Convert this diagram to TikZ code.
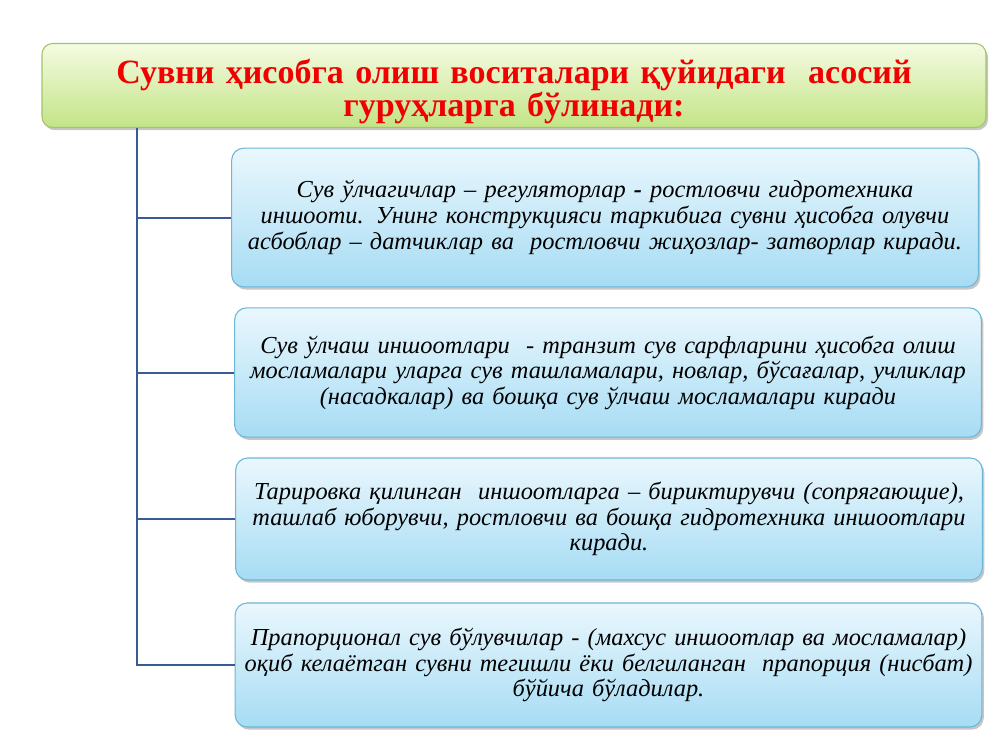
\documentclass[tikz,border=0pt]{standalone}
\usepackage{fontspec}
\setmainfont{Liberation Serif}
\usetikzlibrary{shadows}
\definecolor{titlered}{HTML}{F00000}
\definecolor{linkblue}{HTML}{3A5A94}
\definecolor{boxtop}{HTML}{EAF7FD}
\definecolor{boxbottom}{HTML}{A6DCF4}
\definecolor{boxline}{HTML}{6CB6D6}
\definecolor{titletop}{HTML}{F6FBE2}
\definecolor{titlebottom}{HTML}{C2E486}
\definecolor{titleline}{HTML}{A3C46A}
\tikzset{
    box/.style={draw=boxline, line width=0.8pt, rounded corners=9pt,
        top color=boxtop, bottom color=boxbottom,
        drop shadow={opacity=0.45, shadow xshift=1.5pt, shadow yshift=-2pt},
        align=center, text width=560pt, inner sep=0pt,
        font=\fontsize{18.3}{19.2}\selectfont\itshape},
    titlebox/.style={draw=titleline, line width=0.8pt, rounded corners=8pt,
        top color=titletop, bottom color=titlebottom,
        drop shadow={opacity=0.45, shadow xshift=1.5pt, shadow yshift=-2pt},
        inner sep=0pt},
    titletext/.style={align=center, text width=690pt, inner sep=0pt, text=titlered,
        font=\fontsize{25.5}{25}\selectfont\bfseries},
    link/.style={linkblue, line width=1.5pt}
}
\begin{document}
\begin{tikzpicture}[x=0.75pt, y=-0.75pt]
    % page
    \useasboundingbox (0,0) rectangle (1000,750);
    % title
    \node[titlebox, minimum width=708pt, minimum height=63pt,
        label={[titletext, yshift=-4.5pt]center:{Сувни ҳисобга олиш воситалари қуйидаги\ \ асосий\\ гуруҳларга бўлинади:}}]
        (title) at (514,85.5) {};
    % groups
    \node[box, minimum width=553.5pt, minimum height=104pt] (g1) at (605,217.5)
        {Сув ўлчагичлар – регуляторлар \textbf{-} ростловчи гидротехника\\
         иншооти. Унинг конструкцияси таркибига сувни ҳисобга олувчи\\
         асбоблар – датчиклар ва\ \ ростловчи жиҳозлар- затворлар киради.};
    \node[box, minimum width=558pt, minimum height=97pt] (g2) at (608,372.5)
        {Сув ўлчаш иншоотлари\ \ - транзит сув сарфларини ҳисобга олиш\\
         мосламалари уларга сув ташламалари, новлар, бўсағалар, учликлар\\
         (насадкалар) ва бошқа сув ўлчаш мосламалари киради};
    \node[box, minimum width=559.5pt, minimum height=91.5pt] (g3) at (609,519)
        {Тарировка қилинган\ \ иншоотларга – бириктирувчи (сопрягающие),\\
         ташлаб юборувчи, ростловчи ва бошқа гидротехника иншоотлари\\
         киради.};
    \node[box, minimum width=559pt, minimum height=93pt] (g4) at (608.5,665)
        {Прапорционал сув бўлувчилар - (махсус иншоотлар ва мосламалар)\\
         оқиб келаётган сувни тегишли ёки белгиланган\ \ прапорция (нисбат)\\
         бўйича бўладилар.};
    % tree
    \coordinate (top) at (title.south -| 137,0);
    \draw[link] (top) |- (g4.west);
    \draw[link] (top |- g1.west) -- (g1.west);
    \draw[link] (top |- g2.west) -- (g2.west);
    \draw[link] (top |- g3.west) -- (g3.west);
\end{tikzpicture}
\end{document}
